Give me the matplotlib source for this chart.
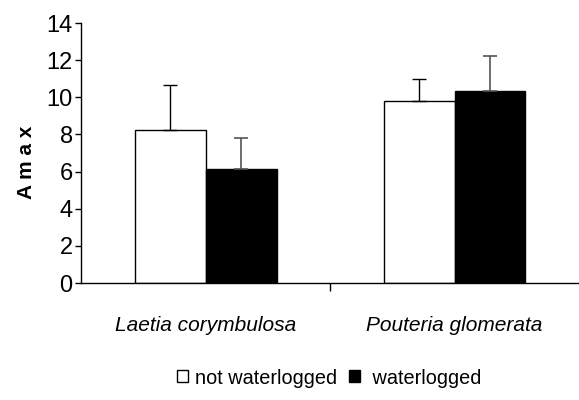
import matplotlib
matplotlib.use('Agg')
import matplotlib.pyplot as plt
from matplotlib.patches import Patch
import numpy as np

# data
species = ['Laetia corymbulosa', 'Pouteria glomerata']
not_waterlogged = [8.25, 9.8]
not_waterlogged_err = [2.4, 1.2]
waterlogged = [6.15, 10.35]
waterlogged_err = [1.65, 1.9]

plt.rcParams['font.family'] = ['Liberation Sans Narrow', 'Liberation Sans', 'DejaVu Sans']

fig = plt.figure(figsize=(5.79, 4.0), dpi=100)
ax = fig.add_axes([0.14, 0.2925, 0.86, 0.65])

x = np.arange(len(species))
w = 0.285
ax.bar(x - w / 2, not_waterlogged, w, color='white', edgecolor='black', linewidth=1)
ax.bar(x + w / 2, waterlogged, w, color='black', edgecolor='black', linewidth=1)
ax.errorbar(x - w / 2, not_waterlogged, yerr=[np.zeros(2), not_waterlogged_err],
            fmt='none', ecolor='black', elinewidth=1, capsize=5, capthick=1)
ax.errorbar(x + w / 2, waterlogged, yerr=[np.zeros(2), waterlogged_err],
            fmt='none', ecolor='#555555', elinewidth=1.2, capsize=5, capthick=1.2)

ax.set_xlim(-0.5, 1.5)
ax.set_ylim(0, 14)
ax.set_yticks(range(0, 15, 2))
ax.tick_params(axis='y', labelsize=17, length=4, width=1, direction='out', pad=2)
ax.set_xticks([0.5])
ax.set_xticklabels([])
ax.tick_params(axis='x', which='major', length=6, width=1, direction='out')
ax.set_xticks(x, minor=True)
ax.set_xticklabels(species, minor=True, style='italic', fontsize=15)
ax.tick_params(axis='x', which='minor', length=0, pad=24)

for s in ['top', 'right']:
    ax.spines[s].set_visible(False)
ax.spines['left'].set_linewidth(1)
ax.spines['bottom'].set_linewidth(1)

ax.set_ylabel('A m a x', fontsize=15, fontweight='bold')
ax.yaxis.set_label_coords(-0.09, 0.465)

handles = [Patch(facecolor='white', edgecolor='black', label='not waterlogged'),
           Patch(facecolor='black', edgecolor='black', label=' waterlogged')]
fig.legend(handles=handles, loc='center', bbox_to_anchor=(0.568, 0.055), ncol=2,
           frameon=False, fontsize=14.3, handlelength=0.55, handleheight=0.55,
           handletextpad=0.35, columnspacing=0.6)

plt.savefig('out.png', dpi=100)
